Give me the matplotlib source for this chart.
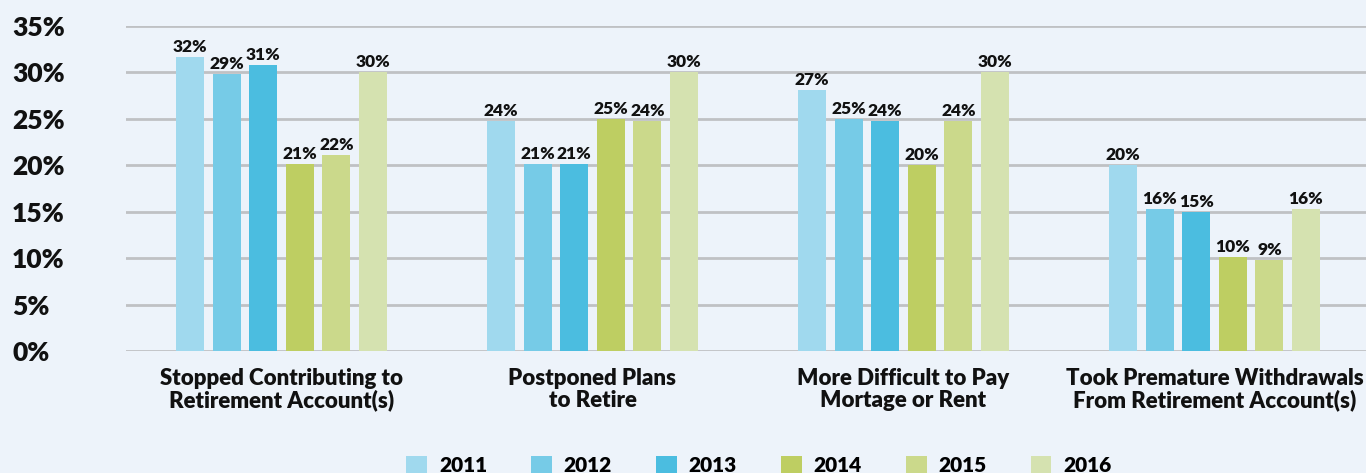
import numpy as np
import matplotlib.pyplot as plt
from matplotlib.patches import Patch

# data
categories = ["Stopped Contributing to\nRetirement Account(s)",
              "Postponed Plans\nto Retire",
              "More Difficult to Pay\nMortage or Rent",
              "Took Premature Withdrawals\nFrom Retirement Account(s)"]
years = ["2011", "2012", "2013", "2014", "2015", "2016"]

# bar heights (as drawn) per year, one value per category
v2011 = [31.7, 24.8, 28.1, 20.0]
v2012 = [29.8, 20.1, 25.0, 15.3]
v2013 = [30.8, 20.1, 24.8, 15.0]
v2014 = [20.1, 25.0, 20.0, 10.1]
v2015 = [21.1, 24.8, 24.8, 9.8]
v2016 = [30.0, 30.0, 30.0, 15.3]

# printed value labels
l2011 = ["32%", "24%", "27%", "20%"]
l2012 = ["29%", "21%", "25%", "16%"]
l2013 = ["31%", "21%", "24%", "15%"]
l2014 = ["21%", "25%", "20%", "10%"]
l2015 = ["22%", "24%", "24%", "9%"]
l2016 = ["30%", "30%", "30%", "16%"]

yticks = [0, 5, 10, 15, 20, 25, 30, 35]

series = [v2011, v2012, v2013, v2014, v2015, v2016]
labels = [l2011, l2012, l2013, l2014, l2015, l2016]
colors = ["#a0d9ee", "#76cbe7", "#4bbde0", "#bece62", "#cbd98b", "#d5e2b0"]
bg = "#edf3fa"
W = 'heavy'

plt.rcParams['font.family'] = ['Lato', 'DejaVu Sans']
plt.rcParams['font.weight'] = W

fig = plt.figure(figsize=(13.66, 4.73), dpi=100, facecolor=bg)
ax = fig.add_axes([126 / 1366, 122 / 473, 1244 / 1366, 325 / 473])
ax.set_facecolor(bg)

x = np.arange(len(categories))
step = 0.1177
width = 0.09
for i, (vals, labs) in enumerate(zip(series, labels)):
    xs = x + (i - 2.5) * step
    bars = ax.bar(xs, vals, width=width, color=colors[i], zorder=2)
    for b, t in zip(bars, labs):
        ax.annotate(t, (b.get_x() + b.get_width() / 2, b.get_height()),
                    xytext=(0, 1.5), textcoords='offset points',
                    ha='center', va='bottom', fontsize=12.5, fontweight=W,
                    color='#111111')

ax.set_xlim(-0.5, 3.5)
ax.set_ylim(0, 35)
ax.set_yticks(yticks)
ax.set_yticklabels([f"{t}%" for t in yticks], fontsize=19, fontweight=W,
                   color='#111111')
for lab in ax.get_yticklabels():
    lab.set_horizontalalignment('left')
ax.tick_params(axis='y', length=0, pad=82)
ax.set_xticks(x)
ax.set_xticklabels(categories, fontsize=16, fontweight=W, linespacing=1.05,
                   color='#111111')
ax.tick_params(axis='x', length=0, pad=12)
ax.grid(axis='y', color='#bfc1c4', linewidth=2, zorder=0)
ax.set_axisbelow(True)
for s in ax.spines.values():
    s.set_visible(False)

handles = [Patch(facecolor=c, edgecolor='none') for c in colors]
fig.legend(handles, years, loc='center', bbox_to_anchor=(0.5556, 0.016),
           ncol=6, frameon=False, handlelength=1.0,
           handleheight=1.0, handletextpad=0.58, columnspacing=2.1,
           prop={'weight': W, 'size': 15})

fig.savefig("out.png", dpi=100, facecolor=bg)
